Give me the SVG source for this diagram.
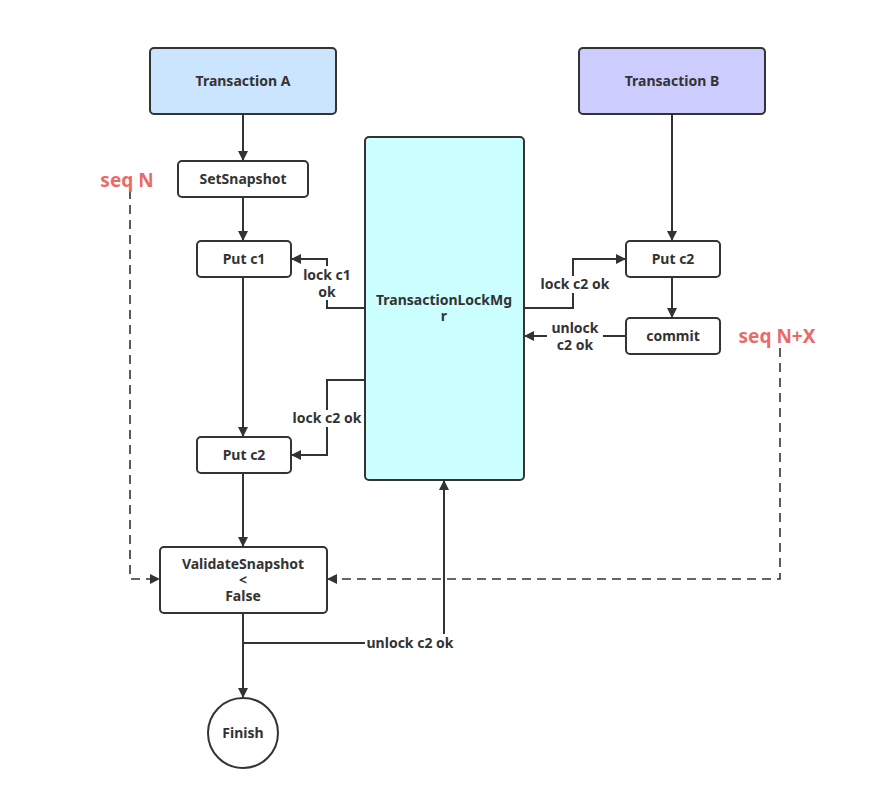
<svg xmlns="http://www.w3.org/2000/svg" width="890" height="800" viewBox="0 0 890 800">
  <defs>
    <marker id="arrow" viewBox="0 0 10 10" refX="9" refY="5" markerWidth="10" markerHeight="10" markerUnits="userSpaceOnUse" orient="auto">
      <path d="M0,0 L10,5 L0,10 z" fill="#333"/>
    </marker>
    <style>
      .box { stroke: #333; stroke-width: 2; fill: #fff; }
      .lbl { font-family: "Noto Sans", "Open Sans", sans-serif; font-weight: bold; font-size: 14px; fill: #333; text-anchor: middle; }
      .seq { font-family: "Noto Sans", "Open Sans", sans-serif; font-weight: bold; font-size: 19px; fill: #ea6b66; text-anchor: middle; }
      .edge { stroke: #333; stroke-width: 2; fill: none; marker-end: url(#arrow); }
      .dash { stroke: #333; stroke-width: 1.6; fill: none; stroke-dasharray: 9 6; marker-end: url(#arrow); }
      .mask { fill: #fff; }
    </style>
  </defs>
  <rect width="890" height="800" fill="#fff"/>

  <g id="connectors">
    <path class="edge" d="M243,114 V160"/>
    <path class="edge" d="M243,197 V240"/>
    <path class="edge" d="M243,277 V436"/>
    <path class="edge" d="M243,473 V546"/>
    <path class="edge" d="M243,613 V697"/>
    <path class="edge" d="M672,114 V240"/>
    <path class="edge" d="M672,277 V317"/>
    <path class="edge" d="M365,308 H327 V259 H292"/>
    <path class="edge" d="M365,380 H327 V455 H292"/>
    <path class="edge" d="M524,308 H573 V259 H625"/>
    <path class="edge" d="M626,336 H525"/>
    <path class="edge" d="M243,643 H444 V481"/>
    <path class="dash" d="M130,190 V579 H159"/>
    <path class="dash" d="M780,348 V579 H328"/>
    <!-- label backgrounds -->
    <rect class="mask" x="301" y="266" width="52" height="34"/>
    <rect class="mask" x="290" y="410" width="74" height="17"/>
    <rect class="mask" x="537" y="276" width="76" height="17"/>
    <rect class="mask" x="547" y="320" width="56" height="33"/>
    <rect class="mask" x="365" y="634" width="92" height="17"/>
    <text class="lbl" x="327" y="280">lock c1</text>
    <text class="lbl" x="327" y="297">ok</text>
    <text class="lbl" x="327" y="423">lock c2 ok</text>
    <text class="lbl" x="575" y="289">lock c2 ok</text>
    <text class="lbl" x="575" y="333">unlock</text>
    <text class="lbl" x="575" y="350">c2 ok</text>
    <text class="lbl" x="410" y="648">unlock c2 ok</text>
  </g>

  <text class="seq" x="127" y="187">seq N</text>
  <text class="seq" x="777" y="343">seq N+X</text>

  <g id="transaction-a">
    <rect class="box" x="150" y="48" width="186" height="66" rx="4" style="fill:#cce5ff"/>
    <text class="lbl" x="243" y="86">Transaction A</text>
  </g>
  <g id="transaction-b">
    <rect class="box" x="579" y="48" width="186" height="66" rx="4" style="fill:#ccccff"/>
    <text class="lbl" x="672" y="86">Transaction B</text>
  </g>
  <g id="set-snapshot">
    <rect class="box" x="178" y="161" width="130" height="36" rx="4"/>
    <text class="lbl" x="243" y="184">SetSnapshot</text>
  </g>
  <g id="put-c1">
    <rect class="box" x="197" y="241" width="94" height="36" rx="4"/>
    <text class="lbl" x="244" y="264">Put c1</text>
  </g>
  <g id="put-c2-a">
    <rect class="box" x="197" y="437" width="94" height="36" rx="4"/>
    <text class="lbl" x="244" y="460">Put c2</text>
  </g>
  <g id="validate-snapshot">
    <rect class="box" x="160" y="547" width="167" height="66" rx="4"/>
    <text class="lbl" x="243" y="569">ValidateSnapshot</text>
    <text class="lbl" x="243" y="585">&lt;</text>
    <text class="lbl" x="243" y="601">False</text>
  </g>
  <g id="finish">
    <circle class="box" cx="243" cy="733" r="35"/>
    <text class="lbl" x="243" y="738">Finish</text>
  </g>
  <g id="lock-mgr">
    <rect class="box" x="365" y="137" width="159" height="343" rx="4" style="fill:#ccffff"/>
    <text class="lbl" x="444" y="305">TransactionLockMg</text>
    <text class="lbl" x="444" y="321">r</text>
  </g>
  <g id="put-c2-b">
    <rect class="box" x="626" y="241" width="94" height="36" rx="4"/>
    <text class="lbl" x="673" y="264">Put c2</text>
  </g>
  <g id="commit">
    <rect class="box" x="626" y="318" width="94" height="36" rx="4"/>
    <text class="lbl" x="673" y="341">commit</text>
  </g>
</svg>
